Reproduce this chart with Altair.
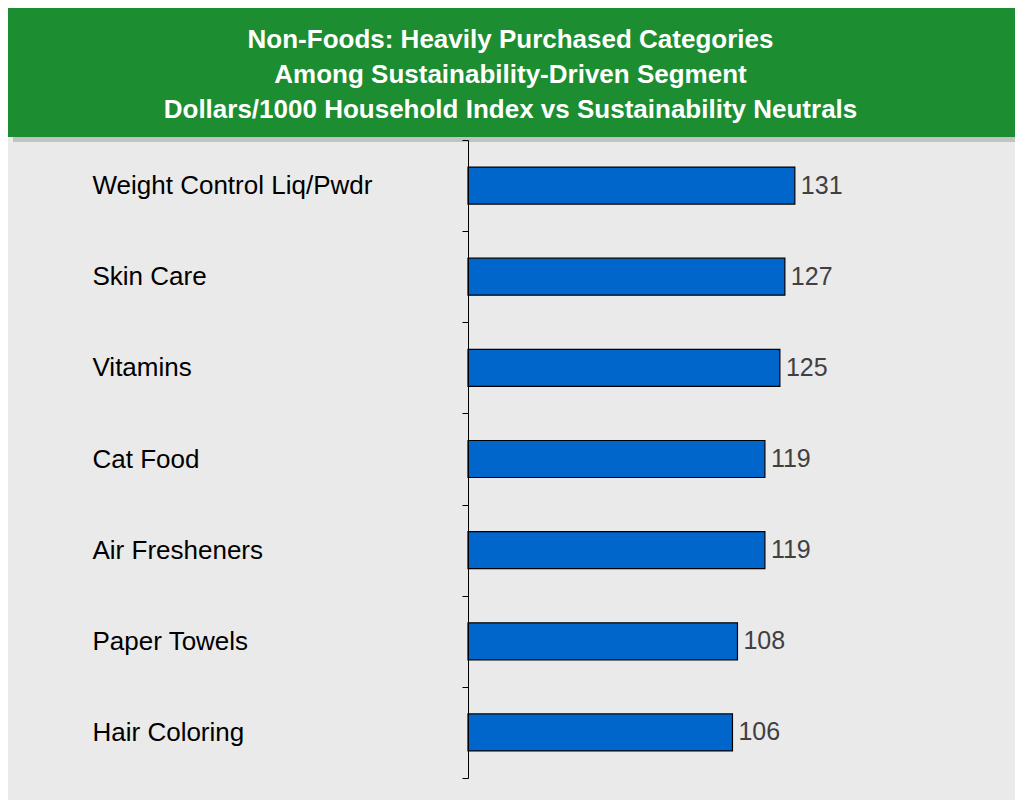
import altair as alt
import pandas as pd

categories = ["Weight Control Liq/Pwdr", "Skin Care", "Vitamins", "Cat Food",
              "Air Fresheners", "Paper Towels", "Hair Coloring"]
values = [131, 127, 125, 119, 119, 108, 106]
title_lines = ["Non-Foods: Heavily Purchased Categories",
               "Among Sustainability-Driven Segment",
               "Dollars/1000 Household Index vs Sustainability Neutrals"]

GREEN = "#1C8D30"
BLUE = "#0066CC"
BG = "#EAEAEA"
FONT = "Liberation Sans"

df = pd.DataFrame({"category": categories, "value": values})
one = pd.DataFrame({"a": [0]})

shadow = alt.Chart(one).mark_rect(color="#C2C2C2").encode(
    x=alt.value(-455), x2=alt.value(560), y=alt.value(-4), y2=alt.value(2)
)
banner = alt.Chart(one).mark_rect(color=GREEN).encode(
    x=alt.value(-462), x2=alt.value(560), y=alt.value(-134), y2=alt.value(-3)
)

base = alt.Chart(df).encode(
    x=alt.X("value:Q", scale=alt.Scale(domain=[0, 200]), axis=None),
    y=alt.Y(
        "category:N",
        sort=categories,
        scale=alt.Scale(paddingInner=0, paddingOuter=0),
        axis=alt.Axis(
            title=None,
            tickBand="extent",
            tickSize=6,
            tickColor="black",
            domainColor="black",
            labelAlign="left",
            labelPadding=370,
            labelFontSize=26,
            labelFont=FONT,
            labelColor="black",
            labelLimit=500,
            zindex=1,
        ),
    ),
)

bars = base.mark_bar(size=37, color=BLUE, stroke="black", strokeWidth=1.2)
labels = base.mark_text(
    align="left", baseline="middle", dx=6, fontSize=25, font=FONT, color="#404040"
).encode(text="value:Q")

chart = alt.layer(shadow, banner, bars, labels).properties(
    width=499,
    height=638,
    autosize=alt.AutoSizeParams(type="none"),
    padding={"left": 460, "top": 132, "right": 48, "bottom": 22},
    background=BG,
    title=alt.TitleParams(
        text=title_lines,
        color="white",
        fontSize=26,
        fontWeight="bold",
        font=FONT,
        anchor="middle",
        dx=-207,
        dy=138,
        offset=0,
        lineHeight=35,
        baseline="alphabetic",
    ),
).configure_view(stroke=None)

chart.save("out.html", embed_options={"renderer": "svg", "actions": False})
